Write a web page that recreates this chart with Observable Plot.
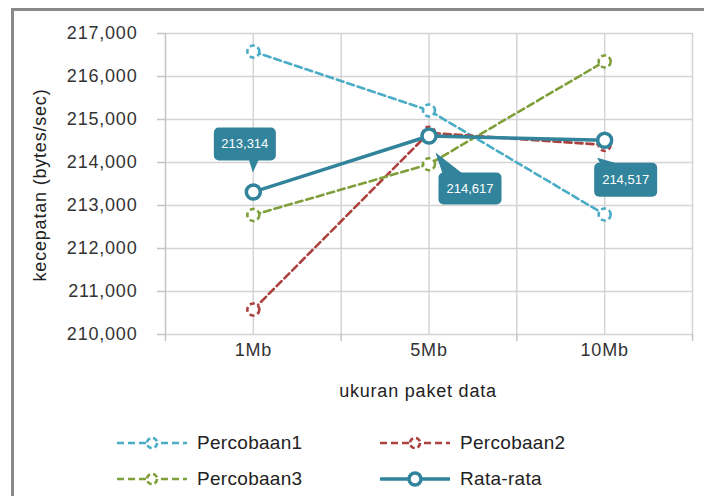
<!DOCTYPE html>
<html>
<head>
<meta charset="utf-8">
<script src="https://cdn.jsdelivr.net/npm/d3@7"></script>
<script src="https://cdn.jsdelivr.net/npm/@observablehq/plot@0.6"></script>
<style>
  html, body { margin: 0; padding: 0; background: #fff; }
  body { width: 704px; height: 496px; position: relative; overflow: hidden; font-family: "Liberation Sans", Arial, sans-serif; }
  #frame { position: absolute; left: 11px; top: 8px; width: 720px; height: 520px; border-left: 3px solid #8a8a8a; border-top: 3px solid #8a8a8a; box-sizing: border-box; }
  #chart { position: absolute; left: 0; top: 0; }
  #chart svg text { letter-spacing: 0.8px; }
  #chart svg text.callout { letter-spacing: 0; }
  #legend { position: absolute; left: 0; top: 0; width: 704px; height: 496px; pointer-events: none; }
  .item { position: absolute; display: flex; align-items: center; font-size: 19px; color: #222; height: 24px; letter-spacing: 0.3px; }
  .item svg { margin-right: 9px; }
</style>
</head>
<body>
<div id="frame"></div>
<div id="chart"></div>
<div id="legend"></div>
<script>
// ---- data ----
const categories = ["1Mb", "5Mb", "10Mb"];
const percobaan1 = [216580, 215210, 212790];
const percobaan2 = [210580, 214690, 214410];
const percobaan3 = [212780, 213960, 216350];
const rataRata   = [213314, 214617, 214517];
const seriesNames = ["Percobaan1", "Percobaan2", "Percobaan3", "Rata-rata"];
const yTicks = [210000, 211000, 212000, 213000, 214000, 215000, 216000, 217000];

// ---- style ----
const colors = { "Percobaan1": "#4bacc6", "Percobaan2": "#ab423f", "Percobaan3": "#7f9f3a", "Rata-rata": "#31849b" };
const fmt = d3.format(",");
// callout geometry, relative to the data point (pixels)
const callouts = [
  { bx: -39, by: -64, w: 62, h: 33, tip: [0, -19], base: [-4, 6] },
  { bx: 10,  by: 37,  w: 63, h: 32, tip: [7, 17],  base: [14, 34] },
  { bx: -10, by: 23,  w: 63, h: 34, tip: [-7, 18], base: [-4, 14] }
];

const allSeries = [percobaan1, percobaan2, percobaan3, rataRata];
const rows = seriesNames.map((s, k) => categories.map((c, i) => ({ series: s, cat: c, x: i + 0.5, y: allSeries[k][i] })));

function dashedSeries(data, color) {
  return [
    Plot.line(data, { x: "x", y: "y", stroke: color, strokeWidth: 2.6, strokeDasharray: "7,4" }),
    Plot.dot(data, { x: "x", y: "y", r: 6, fill: "white", stroke: color, strokeWidth: 2.6, strokeDasharray: "5,3" })
  ];
}

function calloutMark(index, scales, values, dimensions) {
  const g = d3.create("svg:g");
  rataRata.forEach((v, i) => {
    const px = scales.x(i + 0.5), py = scales.y(v);
    const c = callouts[i];
    const x0 = px + c.bx, y0 = py + c.by, w = c.w, h = c.h, r = 5;
    const tipX = px + c.tip[0], tipY = py + c.tip[1];
    const onTop = c.tip[1] < c.by;
    const edgeY = onTop ? y0 + 1 : y0 + h - 1;
    g.append("path")
      .attr("d", `M${px + c.base[0]},${edgeY} L${tipX},${tipY} L${px + c.base[1]},${edgeY} Z`)
      .attr("fill", colors["Rata-rata"]);
    g.append("rect")
      .attr("x", x0).attr("y", y0).attr("width", w).attr("height", h)
      .attr("rx", r).attr("ry", r)
      .attr("fill", colors["Rata-rata"]);
    g.append("text")
      .attr("class", "callout")
      .attr("x", x0 + w / 2).attr("y", y0 + h / 2)
      .attr("text-anchor", "middle").attr("dominant-baseline", "central")
      .attr("fill", "white").attr("font-size", 13)
      .attr("font-family", "Liberation Sans, Arial, sans-serif")
      .text(fmt(v));
  });
  return g.node();
}

const chart = Plot.plot({
  width: 704,
  height: 410,
  marginLeft: 165,
  marginRight: 12,
  marginTop: 33,
  marginBottom: 76,
  style: { fontFamily: "Liberation Sans, Arial, sans-serif", fontSize: "18px", background: "transparent", overflow: "visible", color: "#333" },
  x: { domain: [0, 3], axis: null },
  y: { domain: [210000, 217000], axis: null },
  marks: [
    Plot.ruleY(yTicks, { stroke: "#d4d4d4", strokeWidth: 1.5 }),
    Plot.ruleX([0.5, 1, 1.5, 2, 2.5, 3], { stroke: "#d4d4d4", strokeWidth: 1.5 }),
    Plot.ruleX([0], { stroke: "#c4c4c4", strokeWidth: 1.5 }),
    Plot.axisY({ ticks: yTicks, tickFormat: fmt, tickSize: 8, tickPadding: 20, stroke: "#c4c4c4", strokeWidth: 1.5, fill: "#333", fontSize: 18, label: null }),
    Plot.axisX({ ticks: [0, 1, 2, 3], tickSize: 7, tickFormat: () => "", stroke: "#c4c4c4", strokeWidth: 1.5, label: null }),
    Plot.axisX({ ticks: [0.5, 1.5, 2.5], tickSize: 0, tickPadding: 9, tickFormat: (d) => categories[Math.floor(d)], fill: "#333", fontSize: 18, label: null }),
    Plot.text(["kecepatan (bytes/sec)"], { frameAnchor: "left", textAnchor: "middle", lineAnchor: "middle", dx: -125, dy: 1, rotate: -90, fontSize: 18, fill: "#222" }),
    Plot.text(["ukuran paket data"], { frameAnchor: "bottom", textAnchor: "middle", lineAnchor: "middle", dx: -11, dy: 57, fontSize: 18, fill: "#222" }),
    ...dashedSeries(rows[0], colors["Percobaan1"]),
    ...dashedSeries(rows[1], colors["Percobaan2"]),
    ...dashedSeries(rows[2], colors["Percobaan3"]),
    Plot.line(rows[3], { x: "x", y: "y", stroke: colors["Rata-rata"], strokeWidth: 3.5 }),
    Plot.dot(rows[3], { x: "x", y: "y", r: 7, fill: "white", stroke: colors["Rata-rata"], strokeWidth: 3.5 }),
    calloutMark
  ]
});
document.getElementById("chart").appendChild(chart);

// ---- legend ----
const legendPos = [
  { left: 116, top: 431 }, { left: 379, top: 431 },
  { left: 116, top: 467 }, { left: 379, top: 467 }
];
const legend = document.getElementById("legend");
seriesNames.forEach((s, k) => {
  const c = colors[s];
  const solid = s === "Rata-rata";
  const div = document.createElement("div");
  div.className = "item";
  div.style.left = legendPos[k].left + "px";
  div.style.top = legendPos[k].top + "px";
  div.innerHTML = `<svg width="72" height="24">
      <line x1="1" y1="12" x2="71" y2="12" stroke="${c}" stroke-width="${solid ? 3.5 : 2.6}" ${solid ? "" : 'stroke-dasharray="7,4"'}/>
      <circle cx="36" cy="12" r="${solid ? 6 : 5}" fill="white" stroke="${c}" stroke-width="${solid ? 3.5 : 2.6}" ${solid ? "" : 'stroke-dasharray="5,3"'}/>
    </svg><span>${s}</span>`;
  legend.appendChild(div);
});
</script>
</body>
</html>
